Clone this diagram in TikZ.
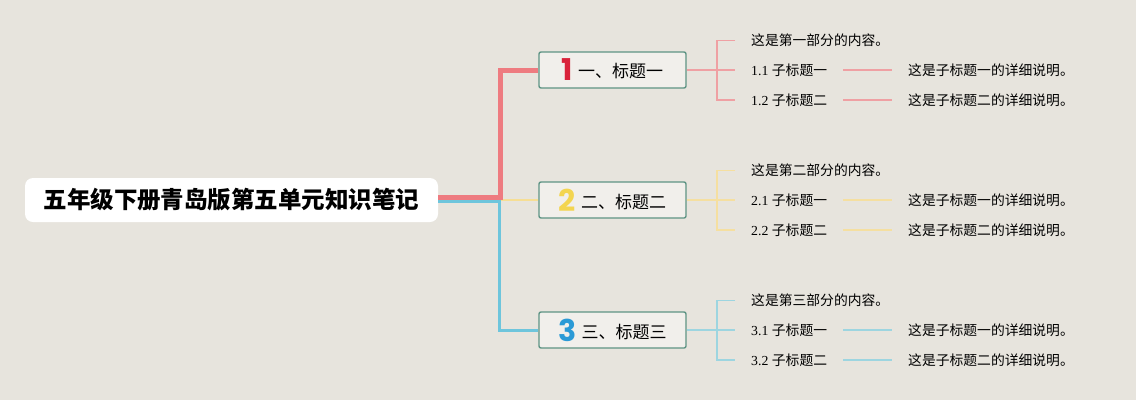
\documentclass[tikz,border=0pt]{standalone}
\usepackage{fontspec}
\setmainfont{Liberation Serif}
\newfontfamily\cjk{Noto Sans CJK SC}
\newfontfamily\numfont{Poppins}
\usetikzlibrary{calc}
\definecolor{bg}{HTML}{E7E4DD}
\definecolor{redm}{HTML}{EE7B80}
\definecolor{redl}{HTML}{EFA0A3}
\definecolor{yelm}{HTML}{F6DE94}
\definecolor{yell}{HTML}{F5DFA0}
\definecolor{blum}{HTML}{6EC5DC}
\definecolor{blul}{HTML}{9DD5E0}
\definecolor{boxb}{HTML}{5E9484}
\definecolor{numa}{HTML}{D9223A}
\definecolor{numb}{HTML}{F3D550}
\definecolor{numc}{HTML}{2B9AD6}
\tikzset{
  titlebox/.style={fill=white, rounded corners=8pt, minimum width=413pt, minimum height=44pt, inner sep=0pt, font=\cjk\bfseries\fontsize{23.5}{26}\selectfont},
  headbox/.style={draw=boxb, line width=1.4pt, fill=bg!60!white, rounded corners=2pt, minimum width=147pt, minimum height=36pt, inner sep=0pt, font=\cjk\fontsize{17}{20}\selectfont},
  item/.style={anchor=west, inner sep=0pt, font=\fontsize{13.8}{16}\selectfont},
  sub/.style={line width=1.2pt},
}
\newcommand\numlab[3]{{\numfont\bfseries\fontsize{30}{30}\selectfont\color{#1}#2}\hspace{5pt}\raisebox{3pt}{#3}}
\begin{document}
\begin{tikzpicture}[x=1pt,y=-1pt]
\fill[bg] (0,0) rectangle (1136,400);
\useasboundingbox (0,0) rectangle (1136,400);

\node[titlebox] (title) at (231.5,200) {五年级下册青岛版第五单元知识笔记};

\node[headbox] (b1) at (612.5,70) {\numlab{numa}{1}{一、标题一}};
\node[headbox] (b2) at (612.5,200) {\numlab{numb}{2}{二、标题二}};
\node[headbox] (b3) at (612.5,330) {\numlab{numc}{3}{三、标题三}};

\coordinate (jr) at (500,197.5);
\coordinate (jb) at (499,201.5);
\coordinate (jy) at (500,200);

% main connectors
\draw[yelm, line width=2pt] (jy) -- (b2.west);
\draw[blum, line width=3pt] (title.east |- jb) -- (jb) |- (b3.west);
\draw[redm, line width=5pt] (title.east |- jr) -- (jr) |- (b1.west);

% branches
\foreach \n/\c/\y/\k in {1/redl/70/一,2/yell/200/二,3/blul/330/三}{
  \coordinate (k\n) at (717,\y);
  \coordinate (kt\n) at (717,\y-29.5);
  \coordinate (kb\n) at (717,\y+30);
  \node[item] (c\n) at (751,\y-29.5) {\cjk 这是第\k 部分的内容。};
  \node[item] (s\n a) at (751,\y) {\n.1 {\cjk 子标题一}};
  \node[item] (s\n b) at (751,\y+30) {\n.2 {\cjk 子标题二}};
  \node[item] (d\n a) at (908,\y) {\cjk 这是子标题一的详细说明。};
  \node[item] (d\n b) at (908,\y+30) {\cjk 这是子标题二的详细说明。};
  \draw[sub,\c] (b\n.east) -- (k\n);
  \draw[sub,\c] ($(c\n.west)+(-16,0)$) -| (kb\n) -- ($(s\n b.west)+(-16,0)$);
  \draw[sub,\c] (kt\n) -- ($(c\n.west)+(-16,0)$);
  \draw[sub,\c] (k\n) -- ($(s\n a.west)+(-16,0)$);
  \draw[sub,\c] (843,\y) -- ($(d\n a.west)+(-16,0)$);
  \draw[sub,\c] (843,\y+30) -- ($(d\n b.west)+(-16,0)$);
}
\end{tikzpicture}
\end{document}
